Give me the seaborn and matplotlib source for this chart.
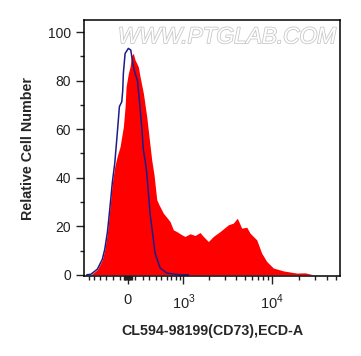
import numpy as np
import pandas as pd
import seaborn as sns
import matplotlib
matplotlib.use('Agg')
import matplotlib.pyplot as plt
import matplotlib.patheffects as pe

# stained sample (red filled histogram) - fluorescence vs relative count
red_x = [-560, -441, -358, -320, -280, -255, -231, -208, -174, -139, -102, -58, -35, -22,
         8, 30, 53, 74, 97, 120, 141, 165, 211, 260, 299, 335, 372, 417, 457, 534, 607,
         670, 743, 824, 953, 1047, 1205, 1381, 1578, 1724, 1965, 2238, 2661, 3296, 3742,
         4144, 4638, 5267, 5720, 6791, 7706, 8750, 10343, 13322, 18704, 23088, 28475,
         36400, 46900]
red_y = [0, 2.1, 6.2, 10.3, 17.3, 24, 30.9, 37.9, 44.6, 49, 52.8, 61, 69.3, 77.5,
         83, 85.7, 90.5, 91.2, 88.5, 87.1, 85.7, 81.6, 74.8, 65.1, 55.6, 47.3, 41.2, 30.9, 28.8, 25.4, 23.5,
         21.9, 18.5, 17.8, 16.5, 15.8, 16.9, 16.2, 17.4, 15.8, 13.7, 15.8, 17.8, 20.6, 21.3,
         23.3, 19.2, 19.6, 17.2, 14.4, 8.9, 5.5, 2.8, 1.6, 0.7, 0.8, 0,
         0, 0]

# isotype control (blue outline)
blue_x = [-642, -560, -441, -358, -320, -280, -255, -231, -208, -174, -147, -125, -111,
          -79, -66, -58, -35, 8, 40, 66, 97, 128, 155, 188, 211, 235, 260, 309, 389,
          475, 601, 783, 953, 1150]
blue_y = [0, 0.2, 2.3, 6.4, 10.5, 17.5, 24.2, 31.1, 38.1, 46, 55.6, 63.8, 69.3,
          71.3, 76.1, 83, 91.2, 93.3, 92.6, 87.1, 83, 80.2, 72, 61, 51.4, 47.3, 41.9, 25.4, 8.9,
          2.8, 0.7, 0.2, 0, 0]

x_major = [0, 1000, 10000]
x_major_labels = ['0', '$10^3$', '$10^4$']
y_major = [0, 20, 40, 60, 80, 100]

W = 520.0


def fwd(x):
    return np.arcsinh(np.asarray(x, dtype=float) / W) / np.log(10)


def inv(u):
    return W * np.sinh(np.asarray(u, dtype=float) * np.log(10))


sns.set_style('ticks')
plt.rcParams['font.family'] = ['Liberation Sans', 'DejaVu Sans']
plt.rcParams['mathtext.fontset'] = 'custom'
plt.rcParams['mathtext.rm'] = 'Liberation Sans'

fig = plt.figure(figsize=(3.61, 3.56), dpi=100)
ax = fig.add_axes([84 / 361, 1 - 276 / 356, 256 / 361, 256 / 356])
ax.set_xscale('function', functions=(fwd, inv))

red = pd.DataFrame({'x': red_x, 'y': red_y})
blue = pd.DataFrame({'x': blue_x, 'y': blue_y})

ax.fill_between(red['x'], red['y'], 0, color='#ff0000', lw=0)
sns.lineplot(data=blue, x='x', y='y', ax=ax, color='#1c1c8a', lw=1.1, sort=False)

ax.set_xlim(-701, 55950)
ax.set_ylim(-0.5, 105)

minor = list(range(-600, 0, 100)) + list(range(-50, 60, 10)) + list(range(100, 1000, 100)) \
    + list(range(2000, 10000, 1000)) + list(range(20000, 60000, 10000))
ax.set_xticks(x_major)
ax.set_xticklabels(x_major_labels)
ax.set_xticks(minor, minor=True)
ax.set_yticks(y_major)
ax.set_yticks([10, 30, 50, 70, 90], minor=True)

ax.tick_params(axis='both', which='major', length=6, width=1, labelsize=10, colors='#222222')
ax.tick_params(axis='both', which='minor', length=3, width=1, colors='#222222')
ax.tick_params(axis='x', which='major', labelsize=10.5, pad=6)
for s in ax.spines.values():
    s.set_linewidth(1.1)
    s.set_color('black')

ax.set_xlabel('CL594-98199(CD73),ECD-A', fontsize=10.3, fontweight='bold', labelpad=9)
ax.set_ylabel('Relative Cell Number', fontsize=10.3, fontweight='bold', labelpad=9)

wm = ax.text(0.985, 0.98, 'WWW.PTGLAB.COM', transform=ax.transAxes, ha='right', va='top',
             fontsize=16.3, color='white', style='italic', zorder=0)
wm.set_path_effects([pe.Stroke(linewidth=1.2, foreground='#c8c8c8'), pe.Normal()])

fig.savefig('out.png', dpi=100)
